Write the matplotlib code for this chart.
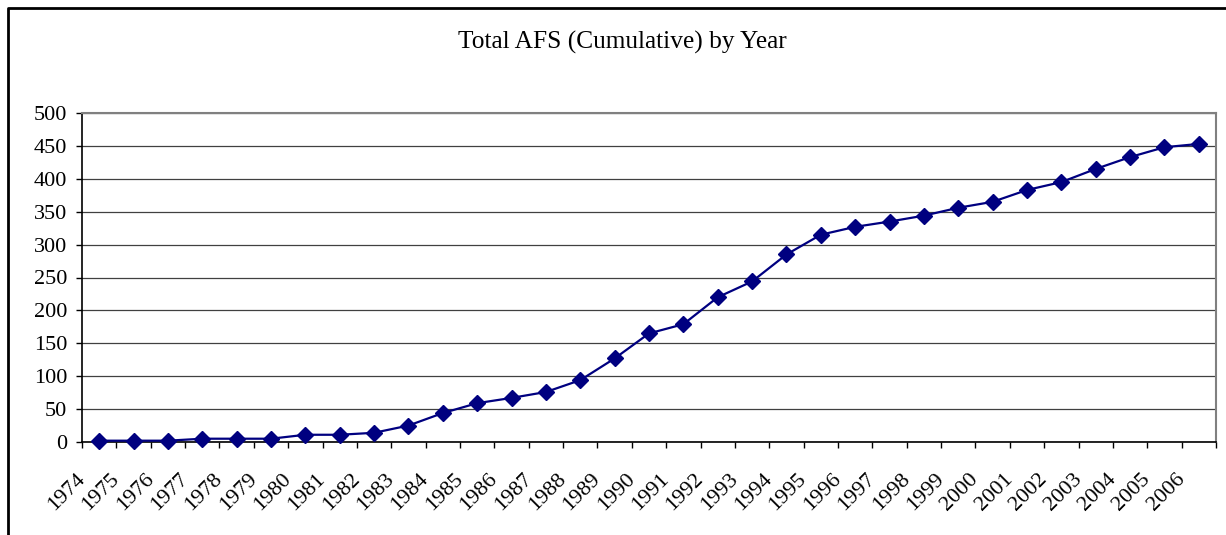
import matplotlib
matplotlib.use("Agg")
import matplotlib.pyplot as plt
from matplotlib.lines import Line2D
from matplotlib.ticker import FixedLocator, MultipleLocator
import matplotlib.transforms as mtransforms
import numpy as np

years = [str(y) for y in range(1974, 2007)]
total_afs = [2, 2, 2, 5, 5, 5, 11, 11, 14, 25, 44, 59, 67, 76, 94, 127,
             165, 179, 220, 244, 285, 315, 327, 335, 344, 356, 365, 383,
             395, 415, 433, 448, 453]

plt.rcParams["font.family"] = ["Liberation Serif", "DejaVu Serif"]

W, H = 1226, 535
fig = plt.figure(figsize=(W / 100, H / 100), dpi=100)
ax = fig.add_axes([82 / W, (H - 442) / H, (1216 - 82) / W, (442 - 113) / H])

x = np.arange(len(years))
ax.plot(x, total_afs, color="#000080", lw=1.6, marker="D", markersize=8,
        markeredgecolor="#000080", clip_on=False, zorder=3)

ax.set_xlim(-0.5, len(years) - 0.5)
ax.set_ylim(0, 500)
ax.yaxis.set_major_locator(MultipleLocator(50))
ax.grid(axis="y", color="#404040", lw=0.9)
ax.set_axisbelow(True)

# category ticks on boundaries, labels at centres
ax.xaxis.set_minor_locator(FixedLocator(np.arange(-0.5, len(years), 1.0)))
ax.set_xticks(x)
ax.set_xticklabels(years, rotation=45, ha="right", va="center",
                   rotation_mode="anchor", fontsize=16)
ax.tick_params(axis="x", which="major", length=0, pad=25)
ax.tick_params(axis="x", which="minor", length=4.5, width=1, color="black",
               direction="out")
ax.tick_params(axis="y", length=4.5, width=1, labelsize=16, pad=6)
offset = mtransforms.ScaledTranslation(-17 / 100, 0, fig.dpi_scale_trans)
for lab in ax.get_xticklabels():
    lab.set_transform(lab.get_transform() + offset)

for side in ("left", "bottom"):
    ax.spines[side].set_color("black")
    ax.spines[side].set_linewidth(1.2)
for side in ("top", "right"):
    ax.spines[side].set_color("#808080")
    ax.spines[side].set_linewidth(1.5)

fig.text(622 / W, 1 - 42 / H, "Total AFS (Cumulative) by Year",
         ha="center", va="center", fontsize=18.3)

# outer chart frame (left and top edges visible)
fig.add_artist(Line2D([8 / W, 8 / W, 1.0], [0.0, 1 - 8 / H, 1 - 8 / H],
                      transform=fig.transFigure, color="black", lw=2))

fig.savefig("out.png", dpi=100)
